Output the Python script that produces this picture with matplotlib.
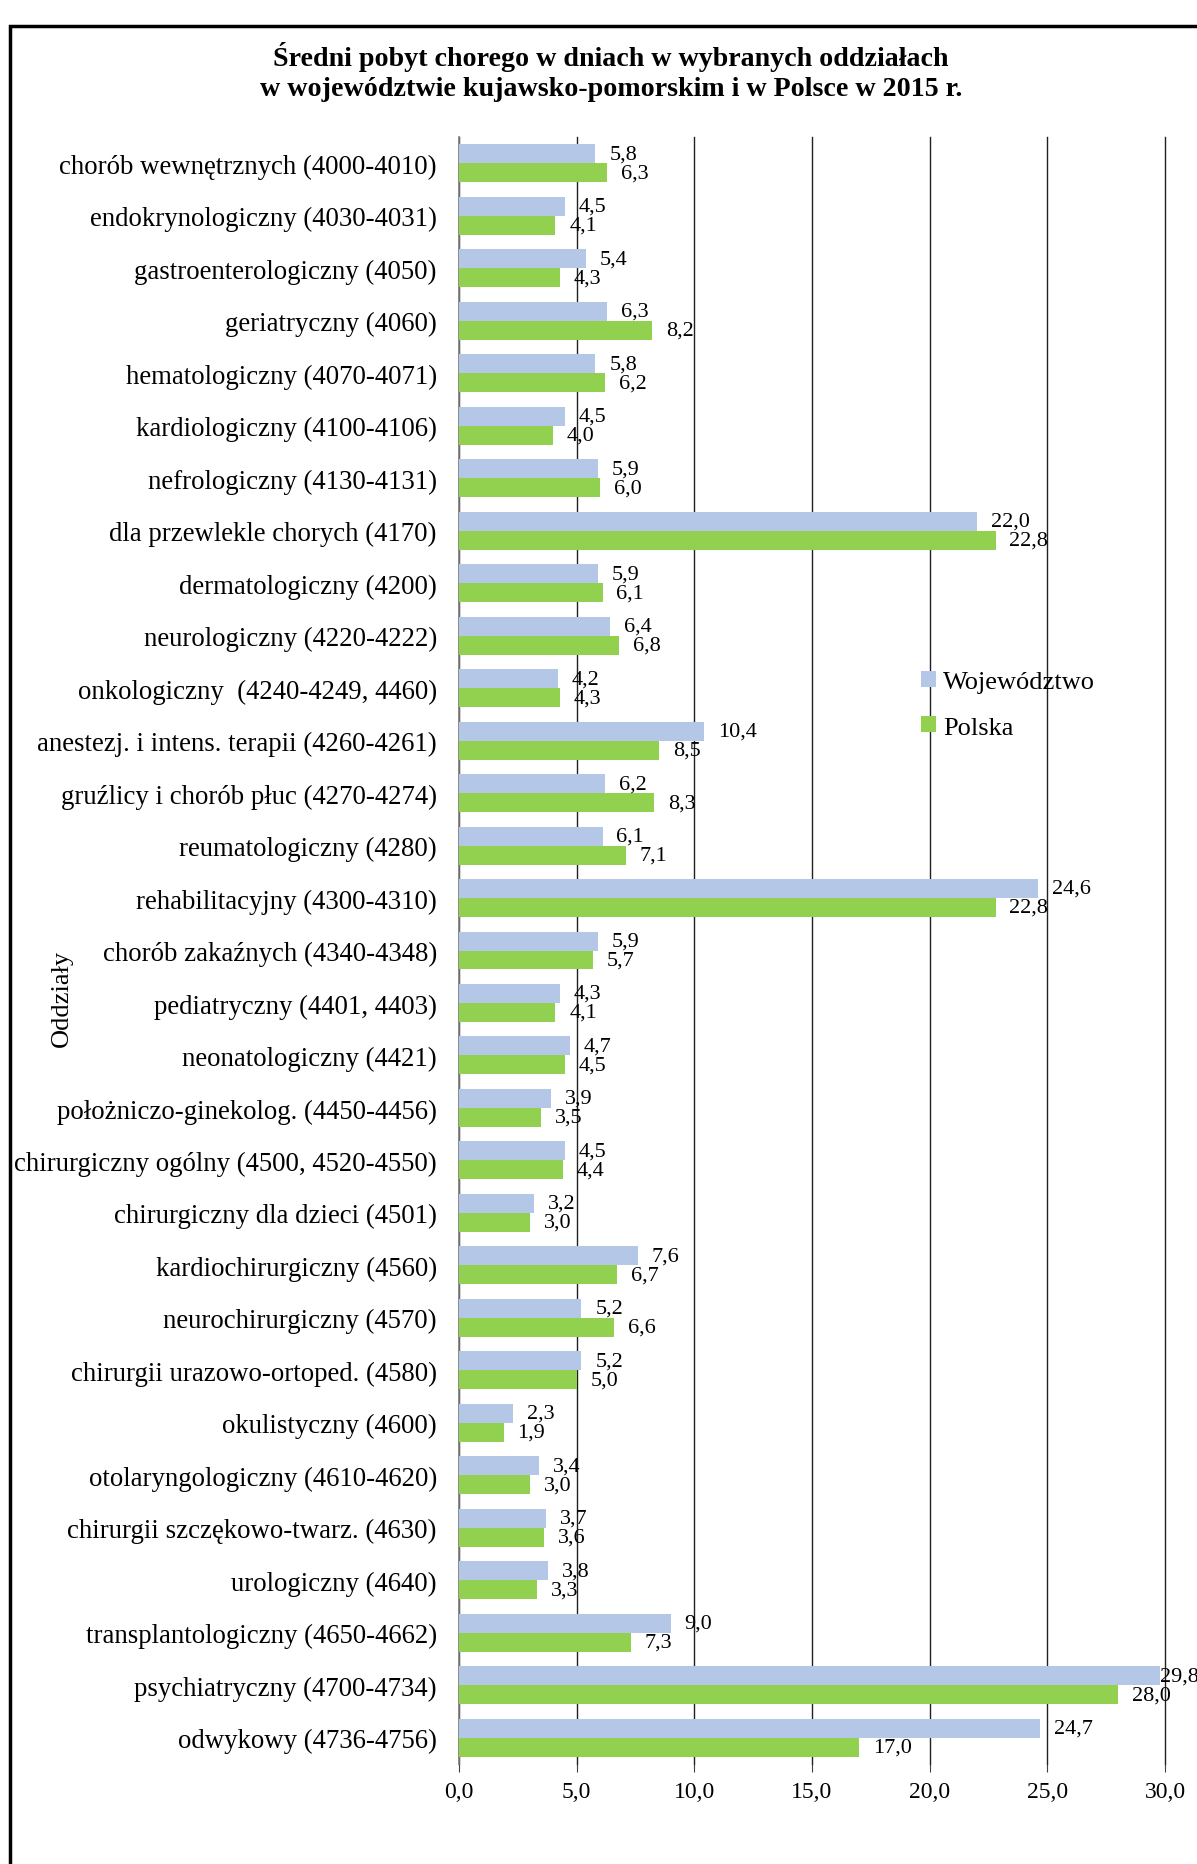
import matplotlib.pyplot as plt
from matplotlib.patches import Rectangle

# oddziały i średni pobyt (dni)
oddzialy = [
    "chorób wewnętrznych (4000-4010)",
    "endokrynologiczny (4030-4031)",
    "gastroenterologiczny (4050)",
    "geriatryczny (4060)",
    "hematologiczny (4070-4071)",
    "kardiologiczny (4100-4106)",
    "nefrologiczny (4130-4131)",
    "dla przewlekle chorych (4170)",
    "dermatologiczny (4200)",
    "neurologiczny (4220-4222)",
    "onkologiczny  (4240-4249, 4460)",
    "anestezj. i intens. terapii (4260-4261)",
    "gruźlicy i chorób płuc (4270-4274)",
    "reumatologiczny (4280)",
    "rehabilitacyjny (4300-4310)",
    "chorób zakaźnych (4340-4348)",
    "pediatryczny (4401, 4403)",
    "neonatologiczny (4421)",
    "położniczo-ginekolog. (4450-4456)",
    "chirurgiczny ogólny (4500, 4520-4550)",
    "chirurgiczny dla dzieci (4501)",
    "kardiochirurgiczny (4560)",
    "neurochirurgiczny (4570)",
    "chirurgii urazowo-ortoped. (4580)",
    "okulistyczny (4600)",
    "otolaryngologiczny (4610-4620)",
    "chirurgii szczękowo-twarz. (4630)",
    "urologiczny (4640)",
    "transplantologiczny (4650-4662)",
    "psychiatryczny (4700-4734)",
    "odwykowy (4736-4756)",
]
wojewodztwo = [5.8, 4.5, 5.4, 6.3, 5.8, 4.5, 5.9, 22.0, 5.9, 6.4, 4.2, 10.4, 6.2, 6.1,
               24.6, 5.9, 4.3, 4.7, 3.9, 4.5, 3.2, 7.6, 5.2, 5.2, 2.3, 3.4, 3.7, 3.8,
               9.0, 29.8, 24.7]
polska = [6.3, 4.1, 4.3, 8.2, 6.2, 4.0, 6.0, 22.8, 6.1, 6.8, 4.3, 8.5, 8.3, 7.1,
          22.8, 5.7, 4.1, 4.5, 3.5, 4.4, 3.0, 6.7, 6.6, 5.0, 1.9, 3.0, 3.6, 3.3,
          7.3, 28.0, 17.0]
x_ticks = [0, 5, 10, 15, 20, 25, 30]

plt.rcParams["font.family"] = ["Liberation Serif", "DejaVu Serif"]

W, H = 1197, 1865
fig = plt.figure(figsize=(W / 100, H / 100), dpi=100)
ax = fig.add_axes([459 / W, 1 - 1765 / H, (1165 - 459) / W, (1765 - 138) / H])

h = 0.362
pos = list(range(len(oddzialy)))
ax.barh([p - h / 2 for p in pos], wojewodztwo, height=h, color="#B4C7E7",
        label="Województwo", zorder=3)
ax.barh([p + h / 2 for p in pos], polska, height=h, color="#92D050",
        label="Polska", zorder=3)

# etykiety danych
def fmt(v):
    return f"{v:.1f}".replace(".", ",")

for p, v in zip(pos, wojewodztwo):
    off = 0 if v > 29 else 10
    ax.annotate(fmt(v), (v, p - h / 2), xytext=(off, 0), textcoords="offset points",
                ha="left", va="center", fontsize=16, annotation_clip=False)
for p, v in zip(pos, polska):
    ax.annotate(fmt(v), (v, p + h / 2), xytext=(10, 0), textcoords="offset points",
                ha="left", va="center", fontsize=16, annotation_clip=False)

ax.set_xlim(0, 30)
ax.set_ylim(len(oddzialy) - 0.5, -0.5)
ax.set_xticks(x_ticks)
ax.set_xticklabels([fmt(t) for t in x_ticks], fontsize=17)
ax.set_yticks(pos)
ax.set_yticklabels(oddzialy, fontsize=19.3)
ax.tick_params(axis="y", length=0, pad=16)
ax.tick_params(axis="x", length=6, pad=6, color="#404040")
ax.xaxis.grid(True, color="#202020", linewidth=1)
for gl in ax.get_xgridlines():
    gl.set_clip_on(False)
ax.set_axisbelow(True)
for s in ["top", "right", "bottom"]:
    ax.spines[s].set_visible(False)
ax.spines["left"].set_color("#808080")
ax.spines["left"].set_linewidth(1.2)

ax.legend(loc="upper left", bbox_to_anchor=(921 / W, 1 - 672 / H),
          bbox_transform=fig.transFigure, frameon=False, fontsize=19,
          handlelength=0.55, handleheight=0.55, handletextpad=0.3,
          labelspacing=0.87, borderpad=0, borderaxespad=0)

fig.text(611 / W, 1 - 72 / H,
         "Średni pobyt chorego w dniach w wybranych oddziałach\n"
         "w województwie kujawsko-pomorskim i w Polsce w 2015 r.",
         ha="center", va="center", fontsize=20.2, fontweight="bold", linespacing=1.3)
fig.text(62 / W, 1 - 998 / H, "Oddziały", rotation=90, ha="center", va="center",
         fontsize=19)

# ramka
fig.patches.append(Rectangle((10 / W, -0.05), 1.1, 1 - 27 / H + 0.05,
                             transform=fig.transFigure, fill=False,
                             edgecolor="black", linewidth=2.5))

fig.savefig("out.png", dpi=100)
